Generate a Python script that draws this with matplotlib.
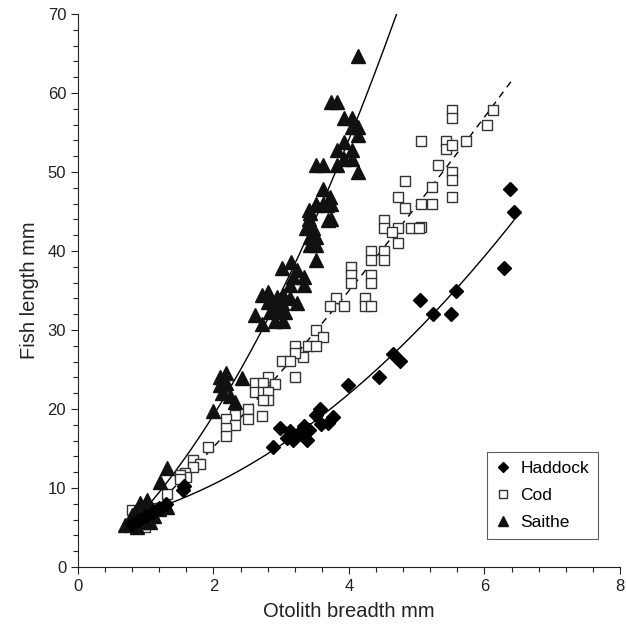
import numpy as np
import matplotlib
matplotlib.use("Agg")
import matplotlib.pyplot as plt
from matplotlib.ticker import MultipleLocator

plt.rcParams['font.family'] = ['Liberation Sans', 'DejaVu Sans']

# Saithe (filled triangles)
saithe_x = [4.13, 3.73, 3.83, 3.93, 4.04, 4.04, 4.14, 4.14, 3.93, 3.82, 4.04,
            3.93, 4.04, 3.52, 3.62, 3.83, 4.13, 3.62, 3.72, 3.52, 3.62, 3.73,
            3.41, 3.41, 3.73, 3.52, 3.67, 3.42, 3.69, 3.37, 3.47, 3.42, 3.52,
            3.42, 3.52, 3.52, 3.01, 3.15, 3.23, 3.18, 3.33, 3.13, 3.33, 2.71,
            2.81, 2.93, 3.03, 3.13, 3.23, 2.81, 2.91, 3.01, 2.61, 2.83, 2.96,
            3.06, 2.71, 2.91, 3.03, 2.10, 2.19, 2.42, 2.10, 2.19, 2.12, 2.24,
            2.32, 2.00, 1.32, 1.21, 1.02, 0.92, 1.19, 1.09, 1.31, 0.84, 0.94,
            1.01, 0.77, 0.87, 0.69, 0.87, 1.06, 0.94, 1.12, 0.80]
saithe_y = [64.7, 58.8, 58.8, 56.8, 56.8, 55.7, 55.7, 54.7, 53.8, 52.8, 52.8,
            51.7, 51.7, 50.9, 50.9, 50.9, 50.0, 47.9, 46.9, 46.0, 46.0, 46.0,
            45.2, 44.1, 44.1, 45.8, 45.8, 44.8, 43.9, 42.9, 42.9, 41.8, 41.8,
            40.8, 40.8, 38.9, 37.8, 38.6, 37.6, 36.7, 36.7, 35.7, 35.7, 34.4,
            34.8, 34.2, 34.4, 34.0, 33.4, 33.6, 33.2, 33.4, 31.9, 32.3, 32.5,
            32.3, 30.8, 31.1, 31.1, 24.1, 24.5, 23.9, 23.0, 23.3, 22.0, 21.6,
            20.9, 19.7, 12.5, 10.8, 8.5, 8.1, 7.4, 7.4, 7.6, 7.0, 6.8,
            7.0, 5.9, 6.2, 5.3, 5.1, 5.7, 5.7, 6.4, 6.6]

# Cod (open squares)
cod_x = [5.52, 5.52, 6.12, 6.03, 5.72, 5.43, 5.43, 5.52, 5.07, 5.32, 5.52,
         5.52, 5.23, 5.52, 5.07, 5.23, 5.07, 4.83, 4.72, 4.83, 4.52, 4.52,
         4.72, 4.91, 5.03, 4.63, 4.72, 4.32, 4.52, 4.32, 4.52, 4.03, 4.03,
         4.03, 4.32, 4.32, 3.81, 4.24, 3.72, 3.92, 4.24, 4.32, 3.52, 3.61,
         3.40, 3.52, 3.32, 3.20, 3.20, 3.01, 3.13, 3.20, 2.81, 2.61, 2.73,
         2.91, 2.61, 2.73, 2.81, 2.81, 2.73, 2.51, 2.32, 2.51, 2.19, 2.71,
         2.32, 2.19, 2.19, 1.92, 1.70, 1.80, 1.70, 1.58, 1.60, 1.51, 1.51,
         1.31, 0.79, 0.89, 0.99, 0.85, 1.00, 1.10, 1.20, 0.92]
cod_y = [57.9, 56.8, 57.9, 55.9, 53.9, 53.9, 52.9, 53.4, 53.9, 50.9, 50.0,
         49.0, 48.1, 46.9, 45.9, 45.9, 43.0, 48.8, 46.9, 45.4, 43.9, 42.9,
         42.9, 42.9, 42.9, 42.4, 41.0, 40.0, 40.0, 38.9, 38.9, 38.0, 37.0,
         35.9, 37.0, 35.9, 34.0, 34.0, 33.0, 33.0, 33.0, 33.0, 30.0, 29.1,
         28.0, 28.0, 26.6, 28.0, 27.1, 26.1, 26.1, 24.1, 24.1, 23.3, 23.3,
         23.2, 22.2, 22.2, 22.2, 21.1, 21.1, 20.0, 19.2, 18.7, 18.7, 19.1,
         18.0, 17.6, 16.6, 15.2, 13.5, 13.1, 12.7, 11.9, 11.4, 11.6, 11.2,
         9.3, 7.2, 4.9, 5.1, 6.0, 6.2, 6.8, 7.5, 5.6]

# Haddock (filled diamonds)
haddock_x = [6.37, 6.43, 6.29, 5.58, 5.51, 5.24, 5.05, 4.65, 4.76, 4.44,
             3.98, 3.57, 3.51, 3.76, 3.58, 3.34, 3.41, 3.13, 2.98, 3.18,
             3.38, 3.09, 3.69, 3.28, 2.88, 1.55, 1.57, 0.80, 0.90, 1.00,
             1.10, 1.20, 1.30]
haddock_y = [47.8, 44.9, 37.9, 34.9, 32.0, 32.0, 33.8, 27.0, 26.1, 24.0,
             23.1, 20.0, 19.2, 19.0, 18.1, 17.8, 17.3, 17.2, 17.6, 16.1,
             16.1, 16.3, 18.2, 17.1, 15.2, 9.8, 10.3, 5.5, 6.0, 6.5,
             7.0, 7.5, 8.0]

# x-range covered by each fitted curve
saithe_fit_range = (0.7, 4.7)
cod_fit_range = (0.7, 6.4)
haddock_fit_range = (0.8, 6.43)

fig = plt.figure(figsize=(6.26, 6.31), dpi=100)
ax = fig.add_axes([0.1246, 0.1014, 0.8658, 0.8764])

# fitted curves
s_coef = np.polyfit(saithe_x, saithe_y, 2)
xs = np.linspace(*saithe_fit_range, 200)
ax.plot(xs, np.polyval(s_coef, xs), color='black', lw=1.0, zorder=1)

c_coef = np.polyfit(np.log(cod_x), np.log(cod_y), 1)
xc = np.linspace(*cod_fit_range, 200)
ax.plot(xc, np.exp(np.polyval(c_coef, np.log(xc))), color='black', lw=1.0,
        dashes=(5, 4), zorder=1)

h_coef = np.polyfit(haddock_x, haddock_y, 2)
xh = np.linspace(*haddock_fit_range, 200)
ax.plot(xh, np.polyval(h_coef, xh), color='black', lw=1.0, zorder=1)

# points
ax.plot(haddock_x, haddock_y, 'D', ms=7, color='black', mec='black',
        lw=0, label='Haddock', zorder=3)
ax.plot(cod_x, cod_y, 's', ms=7.5, mfc='white', mec='#333333', mew=1.0,
        lw=0, label='Cod', zorder=2)
ax.plot(saithe_x, saithe_y, '^', ms=9.5, color='#111111', lw=0,
        label='Saithe', zorder=2)

ax.set_xlim(0, 8)
ax.set_ylim(0, 70)
ax.xaxis.set_major_locator(MultipleLocator(2))
ax.xaxis.set_minor_locator(MultipleLocator(0.4))
ax.yaxis.set_major_locator(MultipleLocator(10))
ax.yaxis.set_minor_locator(MultipleLocator(2))
ax.tick_params(which='major', direction='out', length=5, width=0.8,
               labelsize=12, color='#222222', labelcolor='#222222')
ax.tick_params(which='minor', direction='out', length=3.5, width=0.8,
               color='#222222')
for side in ['top', 'right']:
    ax.spines[side].set_visible(False)
for side in ['left', 'bottom']:
    ax.spines[side].set_linewidth(0.8)
    ax.spines[side].set_color('#222222')

ax.set_xlabel('Otolith breadth mm', fontsize=14.5, color='#222222', labelpad=6)
ax.set_ylabel('Fish length mm', fontsize=14.5, color='#222222', labelpad=6)

leg = ax.legend(loc='lower right', bbox_to_anchor=(0.959, 0.0506),
                borderaxespad=0, frameon=True, fancybox=False, fontsize=12.5,
                handlelength=0.8, handletextpad=0.6, labelspacing=0.7,
                borderpad=0.5, markerscale=0.8)
leg.get_frame().set_edgecolor('#333333')
leg.get_frame().set_linewidth(0.8)

fig.savefig('out.png', dpi=100)
